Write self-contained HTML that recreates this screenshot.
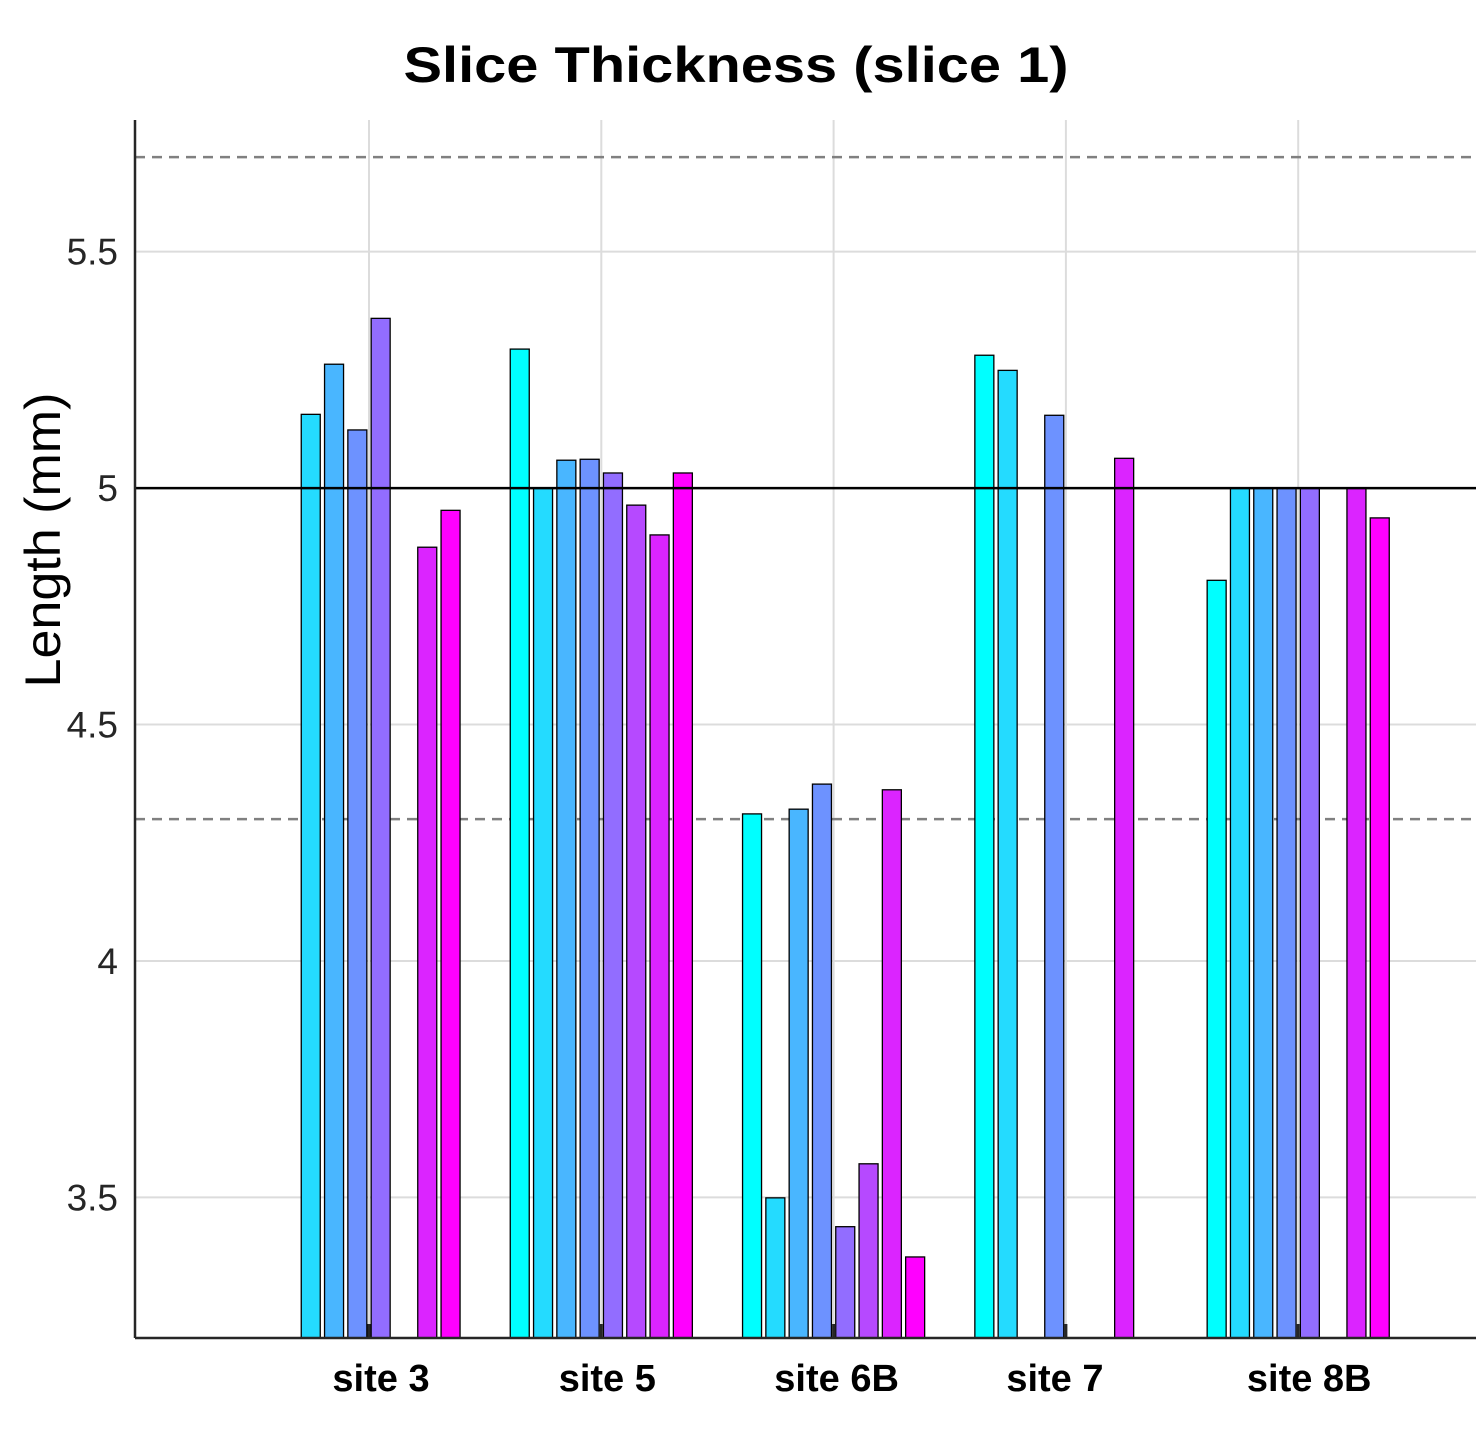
<!DOCTYPE html>
<html><head><meta charset="utf-8"><style>
body{margin:0;background:#fff;}
svg{display:block;font-family:"Liberation Sans",Arial,sans-serif;}
</style></head><body>
<svg id="chart" width="1476" height="1437" xmlns="http://www.w3.org/2000/svg">
<text x="736" y="82" text-anchor="middle" font-size="50" font-weight="bold" textLength="665" lengthAdjust="spacingAndGlyphs">Slice Thickness (slice 1)</text>
<text transform="translate(60,540) rotate(-90)" text-anchor="middle" font-size="50" textLength="295" lengthAdjust="spacingAndGlyphs">Length (mm)</text>
<g id="grid"></g><g id="bars"></g><g id="axes"></g>
</svg>
<script>
const categories=["site 3","site 5","site 6B","site 7","site 8B"];
const series0=[null,5.294,4.311,5.281,4.805];
const series1=[5.156,5.0,3.499,5.249,5.0];
const series2=[5.262,5.059,4.321,null,5.0];
const series3=[5.123,5.061,4.374,5.154,5.0];
const series4=[5.359,5.032,3.438,null,5.0];
const series5=[null,4.964,3.571,null,null];
const series6=[4.875,4.901,4.362,5.063,5.0];
const series7=[4.953,5.032,3.374,null,4.937];
const yTicks=[3.5,4,4.5,5,5.5];
const yTickLabels=["3.5","4","4.5","5","5.5"];
const refLine=5.0, limits=[5.7,4.3];
const series=[series0,series1,series2,series3,series4,series5,series6,series7];
const colors=["#00FFFF","#24DBFF","#49B6FF","#6D92FF","#926DFF","#B649FF","#DB24FF","#FF00FF"];
const labelShift=[12,6,3,-11,11];
const L=135,R=1476,T=120,B=1338;
const yMin=3.2026,yMax=5.7785;
const y=v=>B-(v-yMin)/(yMax-yMin)*(B-T);
const gx=i=>369+i*232.3;
const slot=23.3,bw=19;
const NS="http://www.w3.org/2000/svg";
function mk(tag,attrs,parent){const e=document.createElementNS(NS,tag);for(const k in attrs)e.setAttribute(k,attrs[k]);document.getElementById(parent).appendChild(e);return e;}
const grid="grid";
yTicks.forEach((t,i)=>{
 const l=mk("line",{x1:L,x2:R,y1:y(t),y2:y(t),stroke:"#dcdcdc","stroke-width":2},grid);
 
 
 const tx=mk("text",{x:118,y:y(t)+13,"text-anchor":"end","font-size":37,fill:"#262626"},grid);
 tx.textContent=yTickLabels[i];
 
 
});
categories.forEach((c,i)=>{
 const l=mk("line",{x1:gx(i),x2:gx(i),y1:T,y2:B,stroke:"#dcdcdc","stroke-width":2},grid);
 
 
 const tx=mk("text",{x:gx(i)+labelShift[i],y:1391,"text-anchor":"middle","font-size":38,"font-weight":"bold"},grid);
 tx.textContent=c;
 
 
});
limits.forEach(v=>{
 const l=mk("line",{x1:L,x2:R,y1:y(v),y2:y(v),stroke:"#808080","stroke-width":2.5,"stroke-dasharray":"10,7"},grid);
 
 
});
series.forEach((s,k)=>{
 s.forEach((v,i)=>{
  if(v==null)return;
  const cx=gx(i)+(k-3.5)*slot;
  const r=mk("rect",{x:cx-bw/2,y:y(v),width:bw,height:B-y(v),fill:colors[k],stroke:"#000","stroke-width":1.3},"bars");
  
  
 });
});
const rl=mk("line",{x1:L,x2:R,y1:y(refLine),y2:y(refLine),stroke:"#000","stroke-width":2.5},"axes");


categories.forEach((c,i)=>{
 const t=mk("line",{x1:gx(i),x2:gx(i),y1:B-14,y2:B,stroke:"#262626","stroke-width":3},"axes");
 
 
});
const ya=mk("line",{x1:L,x2:L,y1:T,y2:B,stroke:"#262626","stroke-width":2.5},"axes");


const xa=mk("line",{x1:L,x2:R,y1:B,y2:B,stroke:"#262626","stroke-width":2.5},"axes");


</script>
</body></html>
